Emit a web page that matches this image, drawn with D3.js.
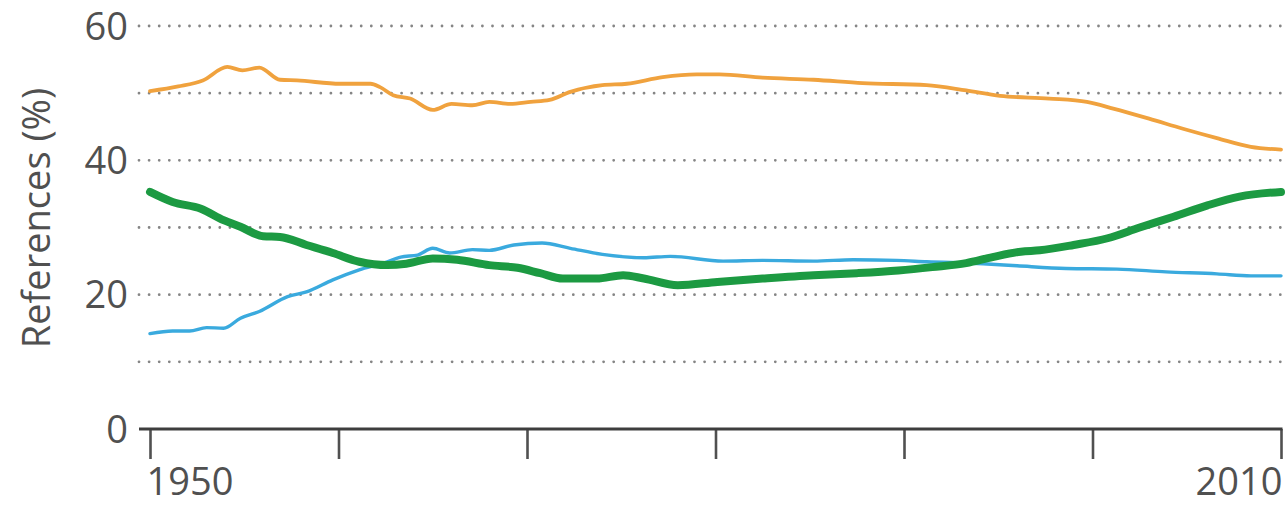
<!DOCTYPE html>
<html>
<head>
<meta charset="utf-8">
<script src="https://cdn.jsdelivr.net/npm/d3@7"></script>
<style>
  html, body { margin: 0; padding: 0; background: #fff; }
  svg { display: block; font-family: "Open Sans", "Noto Sans", sans-serif; }
</style>
</head>
<body>
<div id="chart"></div>
<script>
// Share of references by age group, 1950–2010
const orangeYears = [1950, 1951.5, 1952.8, 1954.1, 1954.9, 1955.8, 1956.9, 1957.8, 1960.1, 1961.7, 1962.2, 1962.9, 1963.8, 1965, 1966, 1967.1, 1968, 1969.1, 1970.2, 1971.2, 1972.3, 1974, 1975.3, 1977.2, 1979, 1980.2, 1982.5, 1985.2, 1987.8, 1991.2, 1993.3, 1995.1, 1997.7, 1999.7, 2001.1, 2003, 2004.8, 2006.6, 2008.4, 2010];
const orangeValues = [50.3, 51.0, 51.9, 53.9, 53.4, 53.8, 52.0, 51.9, 51.4, 51.4, 50.9, 49.7, 49.2, 47.5, 48.4, 48.2, 48.7, 48.4, 48.7, 49.0, 50.2, 51.2, 51.4, 52.4, 52.8, 52.8, 52.3, 52.0, 51.5, 51.2, 50.4, 49.6, 49.2, 48.7, 47.7, 46.2, 44.7, 43.3, 42.0, 41.6];

const blueYears = [1950, 1951.2, 1952.1, 1953, 1953.9, 1954.8, 1955.8, 1957.3, 1958.3, 1959.7, 1961.1, 1962.4, 1963.3, 1964.2, 1965, 1965.9, 1967.1, 1968, 1969.3, 1970.8, 1972.3, 1974, 1976.2, 1977.6, 1980.4, 1982.5, 1985.2, 1987.3, 1989.6, 1991.2, 1994.2, 1996, 1998.6, 2001.3, 2003.9, 2006.6, 2008.4, 2010];
const blueValues = [14.2, 14.6, 14.6, 15.1, 15.0, 16.5, 17.5, 19.7, 20.4, 22.2, 23.7, 24.7, 25.6, 25.9, 26.9, 26.2, 26.7, 26.6, 27.4, 27.7, 26.9, 26.0, 25.5, 25.7, 25.0, 25.1, 25.0, 25.2, 25.1, 24.9, 24.6, 24.3, 23.9, 23.8, 23.4, 23.1, 22.8, 22.8];

const greenYears = [1950, 1951.2, 1952.7, 1953.9, 1954.8, 1956, 1956.9, 1958.3, 1959.7, 1961.1, 1962.6, 1963.6, 1965, 1966.3, 1968, 1969.5, 1970.7, 1971.9, 1973.7, 1975.1, 1976.2, 1978, 1980.1, 1982.5, 1985.2, 1987.5, 1989.7, 1991.5, 1993.3, 1994.7, 1996.2, 1997.2, 1999, 2000.8, 2002.5, 2004.3, 2006.1, 2007.8, 2010];
const greenValues = [35.3, 33.8, 32.8, 31.1, 30.1, 28.7, 28.6, 27.4, 26.2, 24.9, 24.4, 24.6, 25.4, 25.2, 24.4, 24.0, 23.2, 22.4, 22.4, 22.9, 22.4, 21.4, 21.9, 22.4, 22.9, 23.2, 23.6, 24.1, 24.7, 25.6, 26.4, 26.6, 27.4, 28.4, 30.0, 31.6, 33.3, 34.6, 35.3];

const xTicks = [1950, 1960, 1970, 1980, 1990, 2000, 2010];
const xTickLabels = ["1950", "", "", "", "", "", "2010"];
const gridTicks = [10, 20, 30, 40, 50, 60];
const yTickLabels = [0, 20, 40, 60];

(function () {
  const W = 1288, H = 507;
  const margin = { top: 26, right: 7, bottom: 78, left: 150 };
  const ink = "#505050";

  const svg = d3.select("#chart").append("svg")
    .attr("width", W).attr("height", H);

  const x = d3.scaleLinear().domain([1950, 2010]).range([margin.left, W - margin.right]);
  const y = d3.scaleLinear().domain([0, 60]).range([H - margin.bottom, margin.top]);

  // dotted grid
  svg.append("g").selectAll("line").data(gridTicks).join("line")
    .attr("x1", margin.left - 11).attr("x2", W)
    .attr("y1", d => y(d)).attr("y2", d => y(d))
    .attr("stroke", "#858585").attr("stroke-width", 2.8)
    .attr("stroke-linecap", "round").attr("stroke-dasharray", "0 10.1");

  // y labels
  svg.append("g").selectAll("text").data(yTickLabels).join("text")
    .attr("x", 128).attr("y", d => y(d)).attr("dy", "0.36em")
    .attr("text-anchor", "end").attr("fill", ink).attr("font-size", "38px")
    .text(d => d);

  svg.append("text")
    .attr("transform", `translate(50,218) rotate(-90)`)
    .attr("text-anchor", "middle").attr("fill", ink).attr("font-size", "38px")
    .text("References (%)");

  // x axis
  const xAxis = svg.append("g").attr("transform", `translate(0,${y(0)})`)
    .call(d3.axisBottom(x).tickValues(xTicks).tickSize(30).tickSizeOuter(0)
      .tickFormat((d, i) => xTickLabels[i]));
  xAxis.select(".domain").remove();
  xAxis.append("line")
    .attr("x1", margin.left - 11).attr("x2", x(2010) + 1.5)
    .attr("stroke", "#3e3e3e").attr("stroke-width", 3.2);
  xAxis.selectAll(".tick line").attr("stroke", ink).attr("stroke-width", 2.6);
  xAxis.selectAll(".tick text")
    .attr("fill", ink).attr("font-size", "38px").attr("y", 39).attr("dy", "0.71em")
    .attr("font-family", "\"Open Sans\", \"Noto Sans\", sans-serif")
    .attr("text-anchor", (d, i) => i === 0 ? "start" : "end")
    .attr("dx", (d, i) => i === 0 ? -4 : 1);

  const line = d3.line().x(d => x(d[0])).y(d => y(d[1])).curve(d3.curveMonotoneX);

  const series = [
    { years: orangeYears, values: orangeValues, color: "#f0a23e", width: 3.8 },
    { years: blueYears, values: blueValues, color: "#3aaade", width: 3.4 },
    { years: greenYears, values: greenValues, color: "#1c9a42", width: 8 },
  ];

  svg.append("g").selectAll("path").data(series).join("path")
    .attr("d", s => line(d3.zip(s.years, s.values)))
    .attr("fill", "none")
    .attr("stroke", s => s.color)
    .attr("stroke-width", s => s.width)
    .attr("stroke-linecap", "round").attr("stroke-linejoin", "round");
})();
</script>
</body>
</html>
